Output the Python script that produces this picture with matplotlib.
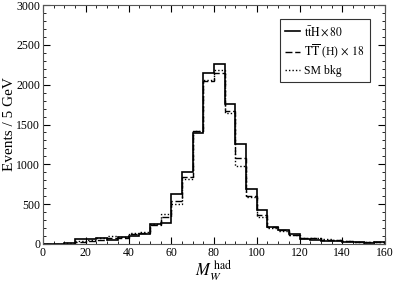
import matplotlib
matplotlib.use('Agg')
import matplotlib.pyplot as plt
import numpy as np
from matplotlib.ticker import MultipleLocator

plt.rcParams['font.family'] = ['Liberation Serif', 'DejaVu Serif']
plt.rcParams['mathtext.fontset'] = 'stix'

# bin edges, 5 GeV bins from 0 to 160
edges = np.arange(0, 165, 5)

# tt~H x 80 (solid)
tth = [0, 0, 10, 60, 60, 80, 50, 85, 100, 120, 245, 260, 624, 905, 1390, 2145,
       2255, 1760, 1250, 695, 430, 213, 175, 120, 60, 55, 40, 35, 30, 25, 10, 20]
# TT~(H) x 18 (dashed)
tt_heavy = [0, 0, 5, 30, 40, 50, 80, 80, 130, 140, 240, 340, 535, 840, 1415, 2040,
            2150, 1670, 1080, 600, 360, 210, 170, 110, 70, 75, 50, 45, 35, 30, 25, 25]
# SM background (dotted)
sm_bkg = [0, 0, 10, 40, 50, 70, 100, 90, 140, 150, 250, 380, 500, 820, 1420, 2060,
          2180, 1640, 975, 590, 340, 200, 160, 110, 80, 80, 60, 50, 40, 30, 30, 25]

labels = [r'$\mathrm{t\bar{t}H} \times 80$',
          r'$\mathrm{T\overline{T}}$ (H)$\,\times\, 18$',
          'SM bkg']

fig = plt.figure(figsize=(3.95, 2.84), dpi=100)
ax = fig.add_axes([43 / 395, 40 / 284, 342 / 395, 239 / 284])

ax.stairs(tth, edges, color='black', linewidth=1.2, linestyle='-', label=labels[0])
ax.stairs(tt_heavy, edges, color='black', linewidth=1.0, linestyle=(0, (5, 2)), label=labels[1])
ax.stairs(sm_bkg, edges, color='black', linewidth=1.0, linestyle=(0, (1, 1.5)), label=labels[2])

ax.set_xlim(0, 160)
ax.set_ylim(0, 3000)
ax.xaxis.set_major_locator(MultipleLocator(20))
ax.xaxis.set_minor_locator(MultipleLocator(5))
ax.yaxis.set_major_locator(MultipleLocator(500))
ax.yaxis.set_minor_locator(MultipleLocator(100))
ax.tick_params(which='both', direction='in', top=True, right=True, labelsize=8.5, colors='black')
ax.tick_params(which='major', length=5, pad=2)
ax.tick_params(which='minor', length=2.5)
for s in ax.spines.values():
    s.set_color('#555555')

ax.set_ylabel('Events / 5 GeV', fontsize=11)
ax.yaxis.set_label_coords(-0.078, 0.5)
ax.set_xlabel(r'$M_W^{\ \mathrm{had}}$', fontsize=12, labelpad=0)

leg = ax.legend(loc='upper right', bbox_to_anchor=(0.956, 0.941), fontsize=8.5,
                frameon=True, fancybox=False, edgecolor='black', handlelength=1.2,
                borderpad=0.45, labelspacing=0.35, handletextpad=0.4, borderaxespad=0)
leg.get_frame().set_linewidth(0.8)

plt.savefig('out.png', dpi=100)
